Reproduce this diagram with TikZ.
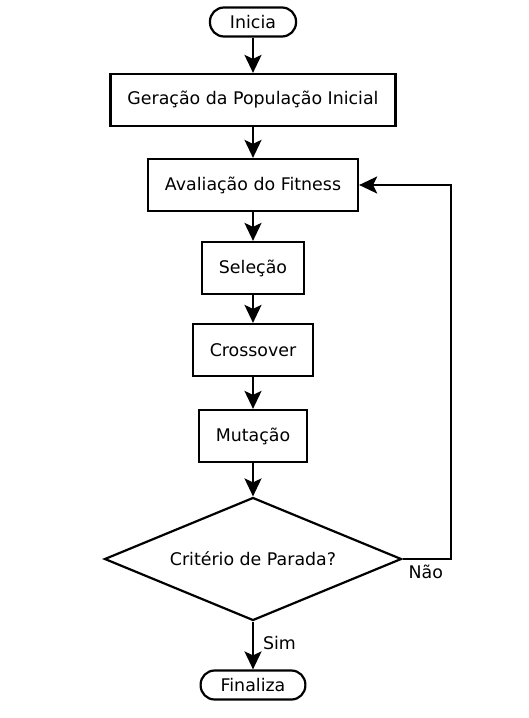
\documentclass[tikz,border=0pt]{standalone}
\usepackage{fontspec}
\setmainfont{DejaVu Sans}
\usetikzlibrary{arrows.meta, shapes.geometric}

\begin{document}
\begin{tikzpicture}[> = {Stealth[length=18pt, width=17pt, inset=4pt]}, % arrow head style
                auto, node distance = 80pt, % distance between node centres
                line width = 2.2pt % line style
            ]

            \tikzstyle{passo}=[draw = black, rectangle, inner xsep = 17pt,
            minimum height = 52pt, font = \fontsize{17.4}{20}\selectfont]
            \tikzstyle{terminal}=[draw = black, rectangle, rounded corners = 14pt,
            inner xsep = 20pt, minimum height = 29pt, font = \fontsize{17.4}{20}\selectfont]
            \tikzstyle{decisao}=[draw = black, diamond, aspect = 2.4, inner sep = 0pt,
            minimum width = 297pt, minimum height = 123pt, font = \fontsize{17.4}{20}\selectfont]
            \tikzstyle{rotulo}=[font = \fontsize{17.4}{20}\selectfont]

            \path[use as bounding box] (0pt,0pt) rectangle (529pt,-718pt);

            \node[terminal] (1) at (253pt,-22pt) {Inicia};
            \node[passo] (2) [below of=1, node distance=78pt] {Geração da População Inicial};
            \node[passo] (3) [below of=2, node distance=85pt] {Avaliação do Fitness};
            \node[passo] (4) [below of=3, node distance=83pt] {Seleção};
            \node[passo] (5) [below of=4, node distance=82pt] {Crossover};
            \node[passo] (6) [below of=5, node distance=86pt] {Mutação};
            \node[decisao] (7) [below of=6, node distance=123pt] {Critério de Parada?};
            \node[terminal] (8) [below of=7, node distance=126pt] {Finaliza};

            \path[->] (1) edge (2); \path[->] (2) edge (3); \path[->] (3) edge (4);
            \path[->] (4) edge (5); \path[->] (5) edge (6); \path[->] (6) edge (7);
            \path[->] (7) edge node[rotulo, right, pos=0.45, inner sep=9pt] {Sim} (8);
            \draw[->] (7.east) -- node[rotulo, below right, pos=0, inner sep=5pt] {Não}
            ++(48pt,0) |- (3);
\end{tikzpicture}
\end{document}
